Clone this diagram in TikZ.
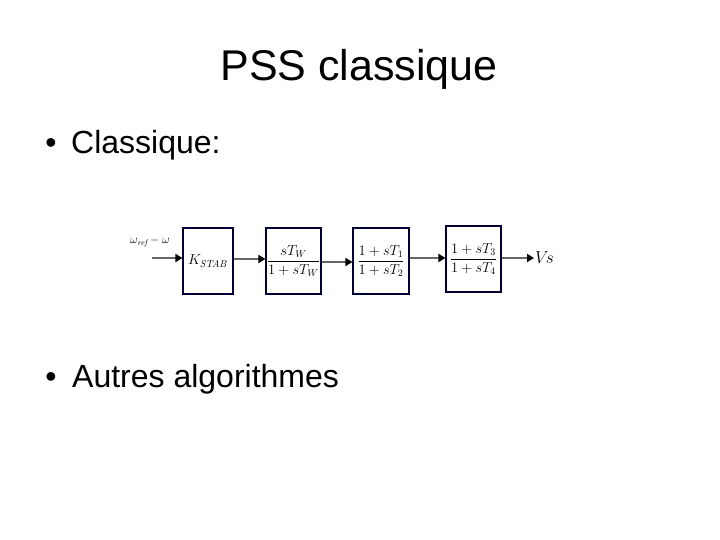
\documentclass[tikz,border=0pt]{standalone}
\usepackage[no-math]{fontspec}
\setmainfont{Liberation Sans}
\usepackage{amsmath}
\usepackage{tikz}
\usetikzlibrary{arrows.meta,positioning}

\begin{document}
\begin{tikzpicture}[x=1pt,y=-1pt,
  blk/.style={draw=black!80!blue, line width=1.1pt, minimum width=#1, minimum height=66pt, inner sep=0pt, font=\fontsize{14}{16}\selectfont},
  sig/.style={draw=black!60, line width=2.4pt, -{Triangle[length=7pt,width=8pt,color=black]}},
  every node/.style={font=\fontsize{32}{36}\selectfont}]
  \useasboundingbox (0,0) rectangle (720,540);
  % title and bullets
  \node[anchor=base, font=\fontsize{43}{48}\selectfont] (title) at (359,81) {PSS classique};
  \node[anchor=base] (dot1) at (51,154) {\textbullet};
  \node[anchor=base west, inner sep=0pt] (item1) at (71,154) {Classique:};
  \node[anchor=base] (dot2) at (51,387) {\textbullet};
  \node[anchor=base west, inner sep=0pt] (item2) at (72,387) {Autres algorithmes};
  % block diagram
  \node[blk=50pt, font=\fontsize{14.5}{17}\selectfont] (kstab) at (208,261) {$K_{\mathit{STAB}}$};
  \node[blk=55pt] (wash) at (293.5,261) {$\dfrac{sT_W}{1+sT_W}$};
  \node[blk=56pt] (lead1) at (381,261) {$\dfrac{1+sT_1}{1+sT_2}$};
  \node[blk=55pt] (lead2) at (473.5,259) {$\dfrac{1+sT_3}{1+sT_4}$};
  \coordinate (in) at (152,258);
  \coordinate (out) at (534,258);
  \node[font=\fontsize{12}{14}\selectfont] (inlbl) at (150,242) {$\omega_{\mathit{ref}}\!-\omega$};
  \node[anchor=west, inner sep=1pt, font=\fontsize{17}{19}\selectfont] (vs) at (out) {$V\!s$};
  \draw[sig] (in) -- (in -| kstab.west);
  \draw[sig] (kstab.east |- 0,259) -- (wash.west |- 0,259);
  \draw[sig] (wash.east |- 0,262) -- (lead1.west |- 0,262);
  \draw[sig] (lead1.east |- 0,258) -- (lead2.west |- 0,258);
  \draw[sig] (lead2.east |- out) -- (out);
\end{tikzpicture}
\end{document}
